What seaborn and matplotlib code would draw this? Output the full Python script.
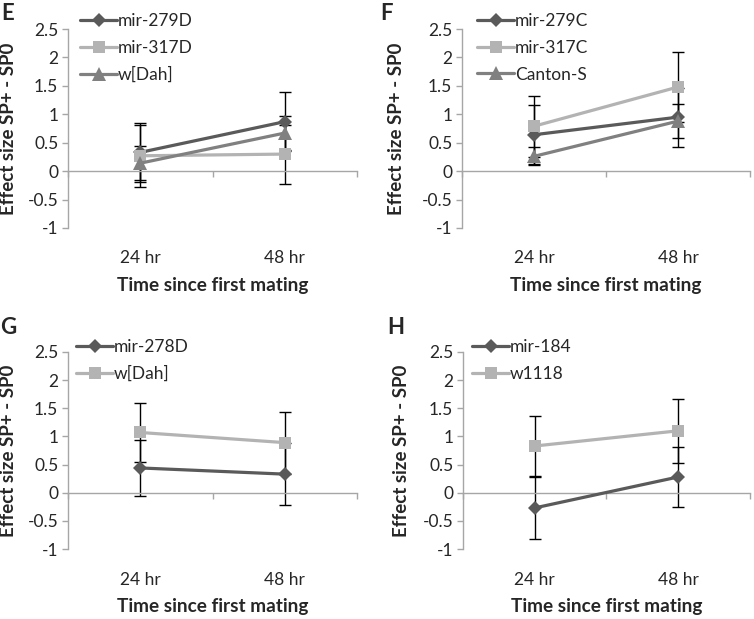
import matplotlib
matplotlib.use("Agg")
import matplotlib.pyplot as plt
import matplotlib.ticker as mticker
import seaborn as sns
import pandas as pd

# --- data ---
times = ["24 hr", "48 hr"]

e_strains = ["mir-279D", "mir-317D", "w[Dah]"]
e_values = [[0.33, 0.87], [0.27, 0.30], [0.14, 0.67]]
e_errors = [[0.52, 0.52], [0.55, 0.52], [0.30, 0.30]]

f_strains = ["mir-279C", "mir-317C", "Canton-S"]
f_values = [[0.64, 0.95], [0.79, 1.48], [0.26, 0.88]]
f_errors = [[0.52, 0.52], [0.54, 0.61], [0.16, 0.30]]

g_strains = ["mir-278D", "w[Dah]"]
g_values = [[0.44, 0.33], [1.07, 0.89]]
g_errors = [[0.50, 0.55], [0.53, 0.55]]

h_strains = ["mir-184", "w1118"]
h_values = [[-0.27, 0.28], [0.83, 1.10]]
h_errors = [[0.55, 0.54], [0.54, 0.57]]

dark, light, mid = "#5a5a5a", "#b3b3b3", "#808080"
colors3 = [dark, light, mid]
markers3 = ["D", "s", "^"]
msizes = {"D": 7.5, "s": 9, "^": 9.5}

sns.set_style("white")
plt.rcParams["font.family"] = ["Lato", "DejaVu Sans"]

W, H = 754, 619
fig = plt.figure(figsize=(W / 100, H / 100), dpi=100)

# panel boxes in pixels: left, right, top(2.5), bottom(-1)
panels = [
    ("E", e_strains, e_values, e_errors, (68, 357, 29, 228), (8, 13), (80, 13), -0.176),
    ("F", f_strains, f_values, f_errors, (462, 750, 29, 228), (387, 13), (477, 13), -0.198),
    ("G", g_strains, g_values, g_errors, (68, 357, 352, 549), (8, 327), (76, 339), -0.176),
    ("H", h_strains, h_values, h_errors, (463, 750, 352, 549), (396, 327), (472, 339), -0.185),
]

for letter, strains, values, errors, box, lpos, legpos, ylx in panels:
    l, r, t, b = box
    ax = fig.add_axes([l / W, 1 - b / H, (r - l) / W, (b - t) / H])
    rows = []
    for s, vals in zip(strains, values):
        for tm, v in zip(times, vals):
            rows.append({"time": tm, "effect": v, "strain": s})
    df = pd.DataFrame(rows)
    pal = {s: c for s, c in zip(strains, colors3)}
    mk = {s: m for s, m in zip(strains, markers3)}

    # error bars behind the lines
    for s, vals, errs in zip(strains, values, errors):
        ax.errorbar(times, vals, yerr=errs, fmt="none", ecolor="black",
                    elinewidth=1, capsize=4, capthick=1, zorder=1)

    sns.lineplot(data=df, x="time", y="effect", hue="strain", style="strain",
                 palette=pal, markers=mk, dashes=False, linewidth=2.3,
                 markeredgewidth=0, markersize=8.5, sort=False, ax=ax, zorder=3)
    for line in ax.get_lines():
        m = line.get_marker()
        if m in msizes:
            line.set_markersize(msizes[m])

    handles = ax.get_legend().legend_handles
    for hd in handles:
        hd.set_markeredgewidth(0)
        if hd.get_marker() in msizes:
            hd.set_markersize(msizes[hd.get_marker()])
    ax.get_legend().remove()
    ax.legend(handles, strains, loc="upper left",
              bbox_to_anchor=(legpos[0] / W, 1 - legpos[1] / H),
              bbox_transform=fig.transFigure, frameon=False, borderpad=0,
              borderaxespad=0, handlelength=2.15, handletextpad=0.05,
              labelspacing=0.62, fontsize=12.5)

    ax.set_xlim(-0.5, 1.5)
    ax.set_ylim(-1, 2.5)
    ax.yaxis.set_major_locator(mticker.MultipleLocator(0.5))
    ax.yaxis.set_major_formatter(mticker.FuncFormatter(lambda v, p: f"{v:g}"))
    ax.tick_params(axis="y", which="major", left=True, length=4, width=1,
                   color="#a6a6a6", labelsize=12.5, pad=3)

    for sp in ["top", "right"]:
        ax.spines[sp].set_visible(False)
    ax.spines["left"].set_color("#a6a6a6")
    ax.spines["left"].set_linewidth(1)
    ax.spines["bottom"].set_position(("data", 0))
    ax.spines["bottom"].set_color("#a6a6a6")
    ax.spines["bottom"].set_linewidth(1)

    ax.set_xticks([0, 1])
    ax.set_xticklabels(times)
    ax.set_xticks([-0.5, 0.5, 1.5], minor=True)
    ax.tick_params(axis="x", which="major", length=0, labelsize=12.5, pad=57)
    ax.tick_params(axis="x", which="minor", bottom=True, length=4, width=1,
                   color="#a6a6a6")

    ax.set_xlabel("Time since first mating", fontsize=13.7, fontweight="bold")
    ax.xaxis.set_label_coords(0.5, -0.248)
    ax.xaxis.label.set_va("top")
    ax.set_ylabel("Effect size SP+ - SP0", fontsize=13.5, fontweight="bold")
    ax.yaxis.set_label_coords(ylx, 0.5)

    fig.text(lpos[0] / W, 1 - lpos[1] / H, letter, fontsize=16,
             fontweight="bold", ha="center", va="center")

fig.savefig("out.png", dpi=100)
